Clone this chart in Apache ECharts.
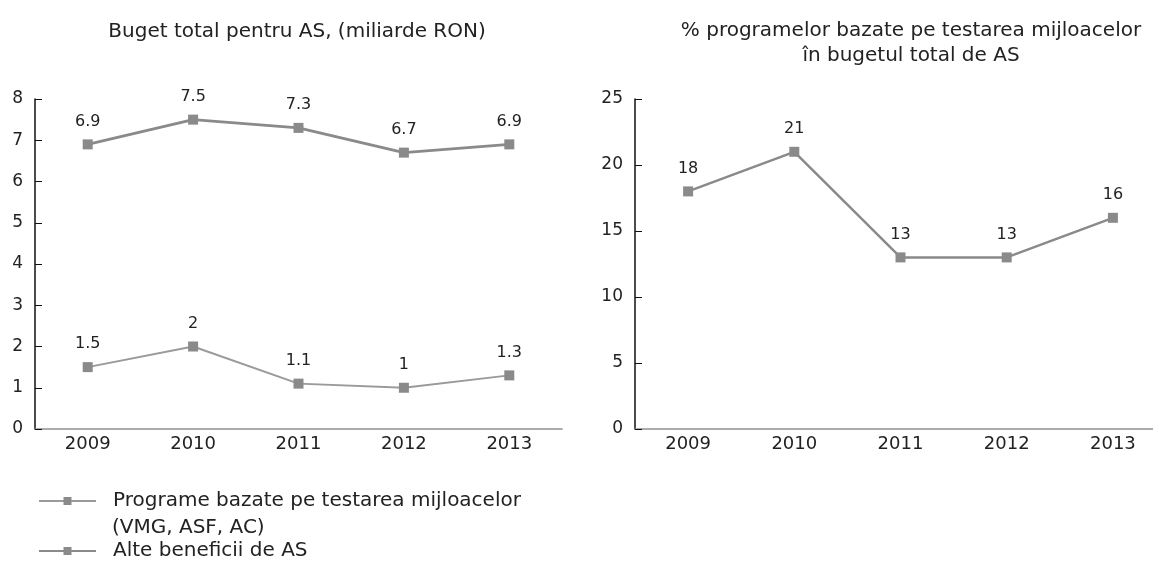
<!DOCTYPE html>
<html>
<head>
<meta charset="utf-8">
<script src="https://cdn.jsdelivr.net/npm/echarts@6/dist/echarts.min.js"></script>
<style>
  html, body { margin: 0; padding: 0; background: #fff; }
  #chart { width: 1153px; height: 566px; }
</style>
</head>
<body>
<div id="chart"></div>
<script>
const years = ['2009', '2010', '2011', '2012', '2013'];
const programeValues = [1.5, 2, 1.1, 1, 1.3];
const alteValues = [6.9, 7.5, 7.3, 6.7, 6.9];
const procentValues = [18, 21, 13, 13, 16];

const programeName = 'Programe bazate pe testarea mijloacelor';
const programeNote = '(VMG, ASF, AC)';
const alteName = 'Alte beneficii de AS';

const font = 'DejaVu Sans';
const gray = '#8a8a8a';

const chart = echarts.init(document.getElementById('chart'));

const xAxisBase = {
  type: 'category',
  data: years,
  axisLine: { lineStyle: { color: '#909090', width: 1.5 } },
  axisTick: { inside: true, alignWithLabel: true, length: 7, lineStyle: { color: '#333' } },
  axisLabel: { color: '#222', fontSize: 18, fontFamily: font, margin: 6 }
};
const yAxisBase = {
  type: 'value',
  min: 0,
  splitLine: { show: false },
  axisLine: { show: true, lineStyle: { color: '#111', width: 1.5 } },
  axisTick: { show: true, inside: true, length: 7, lineStyle: { color: '#111' } },
  axisLabel: { color: '#222', fontSize: 17, fontFamily: font, margin: 12 }
};
const seriesBase = {
  type: 'line',
  symbol: 'rect',
  symbolSize: 10,
  itemStyle: { color: gray },
  label: { show: true, position: 'top', distance: 10, color: '#222', fontSize: 16, fontFamily: font },
  emphasis: { disabled: true }
};

chart.setOption({
  animation: false,
  textStyle: { fontFamily: font },
  title: [
    {
      text: 'Buget total pentru AS, (miliarde RON)',
      left: 292, top: 17, textAlign: 'center',
      textStyle: { fontSize: 20, fontWeight: 'normal', color: '#222', fontFamily: font }
    },
    {
      text: '% programelor bazate pe testarea mijloacelor\nîn bugetul total de AS',
      left: 906, top: 13, textAlign: 'center',
      textStyle: { fontSize: 20, fontWeight: 'normal', color: '#222', lineHeight: 25, fontFamily: font }
    }
  ],
  legend: {
    data: [programeName, alteName],
    orient: 'vertical',
    left: 38, top: 488,
    padding: 0,
    itemGap: 24,
    itemWidth: 57, itemHeight: 10,
    selectedMode: false,
    textStyle: { fontSize: 20, color: '#222', lineHeight: 26, padding: [0, 0, 0, 12], fontFamily: font }
  },
  graphic: [
    {
      type: 'text',
      left: 112, top: 518,
      style: { text: programeNote, fontSize: 20, fill: '#222', fontFamily: font }
    }
  ],
  grid: [
    { left: 35, right: 591, top: 99, bottom: 137, outerBoundsMode: 'none' },
    { left: 635, right: -13, top: 99, bottom: 137, outerBoundsMode: 'none' }
  ],
  xAxis: [
    Object.assign({ gridIndex: 0 }, xAxisBase),
    Object.assign({ gridIndex: 1 }, xAxisBase)
  ],
  yAxis: [
    Object.assign({ gridIndex: 0, max: 8, interval: 1 }, yAxisBase),
    Object.assign({ gridIndex: 1, max: 25, interval: 5 }, yAxisBase)
  ],
  series: [
    Object.assign({}, seriesBase, {
      name: programeName, xAxisIndex: 0, yAxisIndex: 0, data: programeValues,
      lineStyle: { color: '#9a9a9a', width: 2 }
    }),
    Object.assign({}, seriesBase, {
      name: alteName, xAxisIndex: 0, yAxisIndex: 0, data: alteValues,
      lineStyle: { color: gray, width: 3 }
    }),
    Object.assign({}, seriesBase, {
      name: 'procent', xAxisIndex: 1, yAxisIndex: 1, data: procentValues,
      lineStyle: { color: gray, width: 2.5 }
    })
  ]
});
</script>
</body>
</html>
